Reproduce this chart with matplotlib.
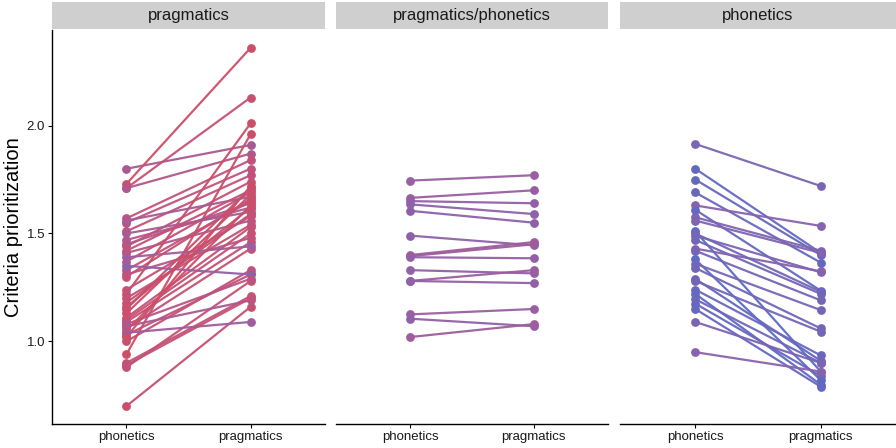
import numpy as np
import matplotlib
matplotlib.use('Agg')
import matplotlib.pyplot as plt
from matplotlib.colors import LinearSegmentedColormap, Normalize

plt.rcParams['font.family'] = ['Liberation Sans', 'DejaVu Sans']

# facet names and x categories
facets = ['pragmatics', 'pragmatics/phonetics', 'phonetics']
conditions = ['phonetics', 'pragmatics']

# per-subject scores (phonetics block, pragmatics block)
prag_phon = [1.80, 1.73, 1.71, 1.71, 1.57, 1.55, 1.51, 1.47, 1.44, 1.41, 1.37, 1.33, 1.31,
             1.22, 1.18, 1.15, 1.11, 1.09, 1.06, 1.03, 1.00, 0.94, 0.90, 0.88, 0.70,
             1.56, 1.50, 1.45, 1.42, 1.39, 1.35, 1.30, 1.24, 1.20, 1.16, 1.13, 1.10,
             1.08, 1.07, 1.05, 1.04, 1.02, 0.89]
prag_prag = [1.91, 2.36, 2.13, 1.87, 1.84, 1.80, 1.77, 1.62, 1.74, 1.56, 1.69, 1.65, 1.48,
             2.01, 1.59, 1.71, 1.53, 1.46, 1.43, 1.31, 1.33, 1.96, 1.21, 1.28, 1.16,
             1.67, 1.60, 1.64, 1.70, 1.44, 1.31, 1.66, 1.58, 1.54, 1.62, 1.68, 1.50,
             1.29, 1.19, 1.63, 1.09, 1.72, 1.20]

mix_phon = [1.745, 1.665, 1.65, 1.635, 1.605, 1.49, 1.40, 1.395, 1.39, 1.33, 1.28, 1.28,
            1.125, 1.105, 1.02]
mix_prag = [1.77, 1.70, 1.64, 1.59, 1.55, 1.445, 1.46, 1.45, 1.385, 1.315, 1.33, 1.27,
            1.15, 1.07, 1.08]

phon_phon = [1.915, 1.80, 1.75, 1.69, 1.63, 1.61, 1.575, 1.51, 1.49, 1.47, 1.43, 1.42,
             1.38, 1.36, 1.34, 1.29, 1.28, 1.24, 1.22, 1.195, 1.175, 1.15, 1.09, 0.95,
             1.56, 1.50]
phon_prag = [1.72, 1.41, 1.40, 1.365, 1.535, 1.235, 1.42, 0.86, 1.32, 1.22, 1.325, 1.19,
             0.82, 1.145, 1.06, 0.91, 1.045, 0.935, 0.80, 0.90, 0.84, 0.79, 0.90, 0.86,
             1.41, 1.23]

data = [(prag_phon, prag_prag), (mix_phon, mix_prag), (phon_phon, phon_prag)]

# colour follows the change between the two blocks
cmap = LinearSegmentedColormap.from_list(
    'chg', [(0.0, '#5a6cc6'), (0.2, '#6468c0'), (0.5, '#9460a6'),
            (0.72, '#c2527a'), (1.0, '#cc4f68')])
norm = Normalize(vmin=-0.6, vmax=0.6, clip=True)

fig = plt.figure(figsize=(8.96, 4.48), dpi=100)
W, H = 896, 448
panels_px = [(52, 325), (336, 608), (620, 896)]
y_top, y_bot = 30, 424

ymin, ymax = 0.617, 2.443

for i, (x0, x1) in enumerate(panels_px):
    ax = fig.add_axes([x0 / W, (H - y_bot) / H, (x1 - x0) / W, (y_bot - y_top) / H])
    left, right = data[i]
    for a, b in zip(left, right):
        c = cmap(norm(b - a))
        ax.plot([1, 2], [a, b], color=c, lw=1.6, alpha=0.95, zorder=2)
        ax.scatter([1, 2], [a, b], s=40, color=c, zorder=3, linewidths=0)
    ax.set_xlim(0.4, 2.6)
    ax.set_ylim(ymin, ymax)
    ax.set_xticks([1, 2])
    ax.set_xticklabels(conditions, fontsize=9.5, color='#1a1a1a')
    for s in ['top', 'right']:
        ax.spines[s].set_visible(False)
    ax.spines['bottom'].set_linewidth(1.0)
    ax.tick_params(axis='x', length=3, width=0.8, pad=2)
    if i == 0:
        ax.set_yticks([1.0, 1.5, 2.0])
        ax.set_yticklabels(['1.0', '1.5', '2.0'], fontsize=9.5, color='#1a1a1a')
        ax.tick_params(axis='y', length=3, width=0.8, pad=2)
        ax.spines['left'].set_linewidth(1.0)
    else:
        ax.spines['left'].set_visible(False)
        ax.set_yticks([])
    # strip on top
    sax = fig.add_axes([x0 / W, (H - 29) / H, (x1 - x0) / W, 27 / H])
    sax.set_facecolor('#cfcfcf')
    sax.set_xticks([])
    sax.set_yticks([])
    for s in sax.spines.values():
        s.set_visible(False)
    sax.text(0.5, 0.5, facets[i], ha='center', va='center', fontsize=12,
             color='#1a1a1a', transform=sax.transAxes)

fig.text(14 / W, (H - 227) / H, 'Criteria prioritization', rotation=90,
         ha='center', va='center', fontsize=14.5)

fig.savefig('out.png', dpi=100)
